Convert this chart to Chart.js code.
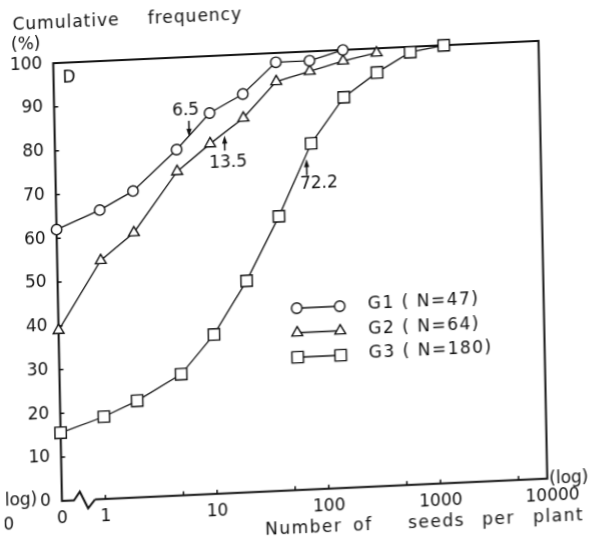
<!DOCTYPE html>
<html>
<head>
<meta charset="utf-8">
<script src="https://cdn.jsdelivr.net/npm/chart.js@4.4.1/dist/chart.umd.min.js"></script>
<style>
  html, body { margin: 0; padding: 0; background: #fff; overflow: hidden; }
  #wrap { width: 601px; height: 543px; transform-origin: 300.5px 271.5px; transform: matrix(1, -0.046, 0.02, 1, 0, 0); }
  canvas { display: block; }
</style>
</head>
<body>
<div id="wrap"><canvas id="c" width="601" height="543"></canvas></div>
<script>
// ---------- data ----------
const seedClasses   = [0, 1, 2, 5, 10, 20, 40, 80, 160, 320, 640, 1280];
const g1Cumulative  = [62, 66, 70, 79, 87, 91, 97.9, 97.9, 100];
const g2Cumulative  = [39, 54.5, 60.5, 74, 80, 85.5, 93.5, 95.5, 97.5, 99];
const g3Cumulative  = [15.6, 18.8, 22.1, 27.7, 36.4, 48.3, 62.7, 79, 89.2, 94.5, 98.8, 100];
const seriesNames   = ['G1 ( N=47)', 'G2 ( N=64)', 'G3 ( N=180)'];
const yTickValues   = [0, 10, 20, 30, 40, 50, 60, 70, 80, 90, 100];
const xTickSeeds    = [0, 1, 10, 100, 1000, 10000];
const xTickLabels   = ['0', '1', '10', '100', '1000', '10000'];
const xMinorSeeds   = [1, 5, 10, 50, 100, 500, 1000, 5000];
const meanSeeds     = [6.5, 13.5, 72.2];
const meanLabels    = ['6.5', '13.5', '72.2'];
const meanSeries    = [0, 1, 2];

// ---------- helpers ----------
const ZERO_POS = -0.39;               // where "0" sits left of the axis break
const pos = n => n === 0 ? ZERO_POS : Math.log10(n);
const allSeries = [g1Cumulative, g2Cumulative, g3Cumulative];
const toPoints = vals => vals.map((v, i) => ({ x: pos(seedClasses[i]), y: v }));
function curveAt(vals, xv) {
  const p = toPoints(vals);
  for (let i = 0; i < p.length - 1; i++) {
    if (xv >= p[i].x && xv <= p[i + 1].x) {
      const t = (xv - p[i].x) / (p[i + 1].x - p[i].x);
      return p[i].y + t * (p[i + 1].y - p[i].y);
    }
  }
  return p[p.length - 1].y;
}

const INK = '#111';
const FAMILY = '"DejaVu Sans", "Liberation Sans", sans-serif';
const FONT = '17px ' + FAMILY;

const markerStyles = [
  { pointStyle: 'circle',   radius: 5.2 },
  { pointStyle: 'triangle', radius: 6.2 },
  { pointStyle: 'rect',     radius: 8.0 }
];
const annotationStyles = [
  { dir: 'down', tipGap: 1, len: 16, textDx: -3, textDy: -25, align: 'center' },
  { dir: 'up',   tipGap: 3, len: 15, textDx: 3,  textDy: 30,  align: 'center' },
  { dir: 'up',   tipGap: 5, len: 16, textDx: -7, textDy: 30,  align: 'left' }
];

// ---------- plugins ----------
const framePlugin = {
  id: 'frame',
  beforeDatasetsDraw(chart) {
    const { ctx, chartArea: a, scales: { x, y } } = chart;
    const L = a.left, T = a.top, B = a.bottom, R = a.right - 5;
    ctx.save();
    ctx.strokeStyle = INK;
    ctx.lineWidth = 2;
    ctx.lineJoin = 'miter';
    ctx.beginPath();
    ctx.moveTo(L + 33, B);
    ctx.lineTo(R, B);
    ctx.lineTo(R, T);
    ctx.lineTo(L, T);
    ctx.lineTo(L, B);
    ctx.lineTo(L + 12, B);
    ctx.lineTo(L + 18, B - 8.5);
    ctx.lineTo(L + 26, B + 8.5);
    ctx.lineTo(L + 33, B);
    ctx.stroke();
    ctx.lineWidth = 1.5;
    ctx.beginPath();
    yTickValues.forEach(v => {
      if (v > 0 && v < 100) {
        const py = y.getPixelForValue(v);
        ctx.moveTo(L, py); ctx.lineTo(L + 4, py);
      }
    });
    xMinorSeeds.forEach(n => {
      const px = x.getPixelForValue(pos(n));
      ctx.moveTo(px, B); ctx.lineTo(px, B - 4);
    });
    ctx.stroke();
    ctx.restore();
  }
};

const textPlugin = {
  id: 'texts',
  afterDraw(chart) {
    const { ctx, chartArea: a, scales: { x, y } } = chart;
    ctx.save();
    ctx.fillStyle = INK;
    ctx.strokeStyle = INK;
    ctx.font = FONT;
    const put = (s, px, py, align = 'left', base = 'alphabetic', ls = '0px') => {
      ctx.textAlign = align; ctx.textBaseline = base;
      try { ctx.letterSpacing = ls; } catch (e) {}
      ctx.fillText(s, px, py);
    };
    // axis titles and loose labels
    put('Cumulative', 17.7, 16.5, 'left', 'alphabetic', '1px');
    put('frequency', 153, 16.5, 'left', 'alphabetic', '1px');
    put('(%)', 30.5, 32.4, 'center', 'middle');
    put('D', a.left + 15.5, a.top + 15, 'center', 'middle');
    put('(log)', a.right - 3, a.bottom + 1, 'left', 'middle');
    put('(log)', 33, a.bottom - 2, 'right', 'middle');
    put('0', 4, a.bottom + 22, 'center', 'middle');
    const words = [['Number', 260], ['of', 348], ['seeds', 403], ['per', 477], ['plant', 528]];
    words.forEach(([w, wx]) => put(w, wx, 533, 'left', 'alphabetic', '1.5px'));

    // legend
    const lx1 = 296, lx2 = 339, ly0 = 308, gap = 24.5;
    chart.data.datasets.forEach((ds, i) => {
      const ly = ly0 + i * gap;
      ctx.lineWidth = 1.3;
      ctx.beginPath(); ctx.moveTo(lx1, ly); ctx.lineTo(lx2, ly); ctx.stroke();
      ctx.fillStyle = '#fff';
      ctx.lineWidth = ds.pointBorderWidth;
      const opt = { pointStyle: ds.pointStyle, radius: ds.pointRadius, rotation: 0, borderWidth: ds.pointBorderWidth };
      Chart.helpers.drawPoint(ctx, opt, lx1, ly);
      Chart.helpers.drawPoint(ctx, opt, lx2, ly);
      ctx.fillStyle = INK;
      put(ds.label, 367, ly, 'left', 'middle', '1.5px');
    });

    // mean annotations with arrows
    meanSeeds.forEach((m, i) => {
      const st = annotationStyles[i];
      const xv = Math.log10(m);
      const px = x.getPixelForValue(xv);
      const py = y.getPixelForValue(curveAt(allSeries[meanSeries[i]], xv));
      const tip = py + st.tipGap;
      const s = st.dir === 'down' ? -1 : 1;
      const tail = tip + s * st.len;
      ctx.lineWidth = 1.5;
      ctx.beginPath(); ctx.moveTo(px, tail); ctx.lineTo(px, tip + s * 4); ctx.stroke();
      ctx.beginPath();
      ctx.moveTo(px, tip);
      ctx.lineTo(px - 2.6, tip + s * 8);
      ctx.lineTo(px + 2.6, tip + s * 8);
      ctx.closePath(); ctx.fill();
      put(meanLabels[i], px + st.textDx, py + st.textDy, st.align, 'middle');
    });
    ctx.restore();
  }
};

// ---------- chart ----------
const datasets = allSeries.map((vals, i) => ({
  label: seriesNames[i],
  data: toPoints(vals),
  borderColor: INK,
  borderWidth: 1.3,
  pointStyle: markerStyles[i].pointStyle,
  pointRadius: markerStyles[i].radius,
  pointBackgroundColor: '#fff',
  pointBorderColor: INK,
  pointBorderWidth: 1.4,
  tension: 0,
  fill: false,
  clip: false
}));

new Chart(document.getElementById('c'), {
  type: 'line',
  data: { datasets },
  options: {
    responsive: false,
    animation: false,
    events: [],
    layout: { padding: { left: 0, right: 53.2, top: 52.1, bottom: 0 } },
    plugins: { legend: { display: false }, tooltip: { enabled: false }, title: { display: false } },
    scales: {
      x: {
        type: 'linear', min: ZERO_POS, max: 4,
        grid: { display: false, drawTicks: false },
        border: { display: false },
        afterBuildTicks: s => { s.ticks = xTickSeeds.map(n => ({ value: pos(n) })); },
        afterFit: s => { s.height = 53.2; },
        ticks: {
          autoSkip: false, maxRotation: 0, minRotation: 0, padding: 8,
          font: { family: FAMILY, size: 17 }, color: INK,
          callback: (v, i) => xTickLabels[i]
        }
      },
      y: {
        type: 'linear', min: 0, max: 100,
        grid: { display: false, drawTicks: false },
        border: { display: false },
        afterBuildTicks: s => { s.ticks = yTickValues.map(v => ({ value: v })); },
        afterFit: s => { s.width = 57.6; },
        ticks: { padding: 11, font: { family: FAMILY, size: 17 }, color: INK }
      }
    }
  },
  plugins: [framePlugin, textPlugin]
});
</script>
</body>
</html>
